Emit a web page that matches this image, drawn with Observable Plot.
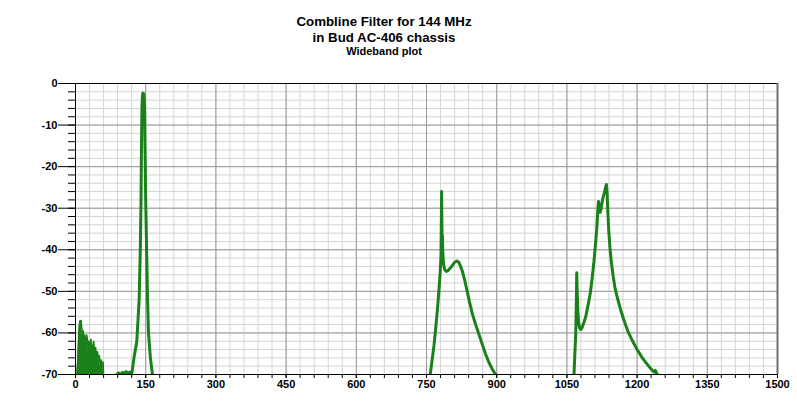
<!DOCTYPE html>
<html>
<head>
<meta charset="utf-8">
<script src="https://cdn.jsdelivr.net/npm/d3@7"></script>
<script src="https://cdn.jsdelivr.net/npm/@observablehq/plot@0.6"></script>
<style>
  body { margin: 0; background: #fff; font-family: "Liberation Sans", Arial, sans-serif; }
  #wrap { position: relative; width: 797px; height: 417px; overflow: hidden; }
  .t { position: absolute; font-weight: bold; color: #000; white-space: nowrap; transform: translate(-50%, -50%); }
  #chart { position: absolute; left: 0; top: 60px; }
</style>
</head>
<body>
<div id="wrap">
  <div class="t" style="left:384px;top:21px;font-size:13.3px">Combline Filter for 144 MHz</div>
  <div class="t" style="left:384px;top:37px;font-size:13.3px">in Bud AC-406 chassis</div>
  <div class="t" style="left:384px;top:51px;font-size:11px">Wideband plot</div>
  <div class="t" style="left:22px;top:229px;font-size:11px;transform:translate(-50%,-50%) rotate(-90deg)">Loss in dB</div>
  <div class="t" style="left:426px;top:400px;font-size:11px">Frequency [MHz]</div>
  <div id="chart"></div>
</div>
<script>
// ---- data (frequency in MHz, loss in dB) ----
const noiseF  = [3, 5, 7, 9, 12, 13.5, 15, 16.5, 18, 20, 22, 24, 25.5, 27, 29, 31, 33, 35, 37, 39, 41, 43, 45, 47, 49, 51, 53, 55, 57, 59, 60];
const noiseDb = [-70, -66, -60, -57.2, -57, -59, -61, -59.5, -62, -60.5, -63, -60.5, -61.5, -64, -62, -65, -61.5, -63, -64.5, -62, -65, -63.5, -66, -64.5, -66.5, -65.5, -68, -66.5, -68, -67, -70];

const passF  = [88, 92, 96, 100, 104, 108, 112, 116, 120, 125, 131, 136, 138.5, 140, 141, 142, 143, 144, 146, 147.5, 148.5, 150, 152, 154, 156, 160, 165];
const passDb = [-70, -69.6, -70, -69.5, -69.7, -69.3, -69.8, -69.4, -70, -66, -62, -52, -40, -28, -15, -6, -3, -2.3, -2.5, -5, -15, -28, -40, -52, -60, -66, -70.5];

const band2F  = [758, 762, 766, 770, 774, 777, 779.5, 781, 781.8, 782.3, 782.8, 783.3, 784, 785, 786.5, 789, 792, 796, 800, 805, 810, 815, 819, 823, 827, 832, 837, 842, 848, 855, 862, 869, 876, 883, 890, 896, 902];
const band2Db = [-70, -66.5, -63, -58.5, -53.5, -49, -45, -41, -32, -26, -33, -38, -36.5, -41, -43.5, -44.8, -45.2, -45, -44.5, -43.8, -43, -42.7, -43, -44, -45.3, -47.5, -50, -52.6, -55.4, -58, -60.3, -62.7, -65, -67, -68.6, -69.7, -70.5];

const band3F  = [1065, 1067, 1069, 1070.5, 1071, 1072, 1073.5, 1075, 1077, 1079.5, 1082, 1086, 1090, 1095, 1100, 1104, 1108, 1111, 1114, 1116, 1117.5, 1119, 1121, 1123, 1126, 1130, 1133, 1134.5, 1136, 1137.5, 1139.5, 1142, 1145, 1149, 1153, 1158, 1165, 1172, 1180, 1190, 1200, 1210, 1220, 1230, 1236, 1239, 1242, 1247];
const band3Db = [-70.5, -65, -60, -50, -45.5, -50, -55, -57.5, -58.8, -59.2, -58.8, -57.6, -56.2, -53.5, -50.4, -46.8, -42.6, -38.8, -34.6, -30.5, -28.4, -29.5, -31, -30.2, -28, -26.3, -24.8, -24.3, -26.5, -31, -35.5, -39.5, -43, -46.5, -49.3, -51.6, -54.5, -57, -59.5, -61.9, -64, -65.8, -67.3, -68.7, -69.4, -69, -69.8, -70.5];

const xMajorTicks = [0, 150, 300, 450, 600, 750, 900, 1050, 1200, 1350, 1500];
const yMajorTicks = [0, -10, -20, -30, -40, -50, -60, -70];
const xMinorTicks = d3.range(0, 1501, 30);
const yMinorTicks = d3.range(-70, 0.1, 2);

const pts = (F, D) => F.map((f, i) => ({f, db: D[i]}));
const noise = pts(noiseF, noiseDb);
const pass = pts(passF, passDb);
const band2 = pts(band2F, band2Db);
const band3 = pts(band3F, band3Db);

const GREEN = "#1a801a";
const font = "Liberation Sans, Arial, sans-serif";

const chart = Plot.plot({
  width: 797,
  height: 357,
  marginLeft: 75,
  marginRight: 20,
  marginTop: 23,
  marginBottom: 43,
  style: {fontFamily: font, fontSize: "11px", fontWeight: "bold", color: "#000", background: "#fff"},
  x: {domain: [0, 1500], label: null},
  y: {domain: [-70, 0], label: null},
  marks: [
    Plot.gridX({ticks: xMinorTicks, stroke: "#d4d4d4", strokeOpacity: 1}),
    Plot.gridY({ticks: yMinorTicks, stroke: "#d4d4d4", strokeOpacity: 1}),
    Plot.gridX({ticks: xMajorTicks, stroke: "#9a9a9a", strokeOpacity: 1}),
    Plot.gridY({ticks: yMajorTicks, stroke: "#9a9a9a", strokeOpacity: 1}),
    Plot.axisX({ticks: xMinorTicks, tickSize: 4, text: null, stroke: "#000"}),
    Plot.axisX({ticks: xMajorTicks, tickSize: 4, tickPadding: 2, label: null, tickFormat: d => String(d)}),
    Plot.axisY({ticks: yMinorTicks, tickSize: 7, text: null, stroke: "#000"}),
    Plot.axisY({ticks: yMajorTicks, tickSize: 17, tickPadding: 1, label: null, tickFormat: d => String(d)}),
    Plot.areaY(noise, {x: "f", y1: -70, y2: "db", fill: GREEN, clip: true}),
    Plot.line(noise, {x: "f", y: "db", stroke: GREEN, strokeWidth: 1.5, clip: true}),
    Plot.line(pass, {x: "f", y: "db", stroke: GREEN, strokeWidth: 3, clip: true}),
    Plot.line(band2, {x: "f", y: "db", stroke: GREEN, strokeWidth: 3, clip: true}),
    Plot.line(band3, {x: "f", y: "db", stroke: GREEN, strokeWidth: 3, clip: true}),
    Plot.ruleY([0, -70], {stroke: "#000"}),
    Plot.ruleX([0], {stroke: "#000"}),
    Plot.ruleX([1500], {stroke: "#707070", strokeWidth: 2})
  ]
});
document.getElementById("chart").appendChild(chart);
</script>
</body>
</html>
